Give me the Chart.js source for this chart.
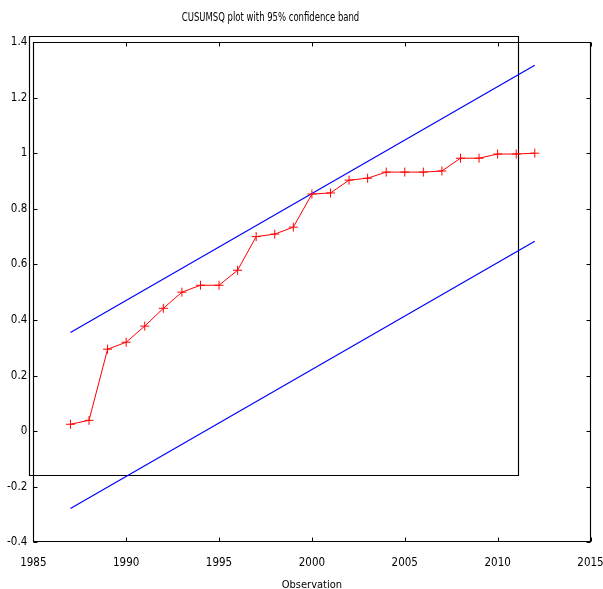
<!DOCTYPE html>
<html>
<head>
<meta charset="utf-8">
<script src="https://cdn.jsdelivr.net/npm/chart.js@4.4.1/dist/chart.umd.min.js"></script>
<style>
html,body{margin:0;padding:0;background:#fff;}
#wrap{width:603px;height:589px;position:relative;}
</style>
</head>
<body>
<div id="wrap"><canvas id="c" width="603" height="589"></canvas></div>
<script>
const titleText = "CUSUMSQ plot with 95% confidence band";
const xTitle = "Observation";
const years = [1987,1988,1989,1990,1991,1992,1993,1994,1995,1996,1997,1998,1999,2000,2001,2002,2003,2004,2005,2006,2007,2008,2009,2010,2011,2012];
const cusumsq = [0.025,0.039,0.295,0.32,0.378,0.442,0.50,0.525,0.525,0.579,0.70,0.709,0.734,0.853,0.857,0.903,0.91,0.932,0.932,0.932,0.936,0.982,0.982,0.997,0.997,1.0];
const bandYears = [1987, 2012];
const upperBand = [0.355, 1.3165];
const lowerBand = [-0.278, 0.6835];
const xTicks = [1985,1990,1995,2000,2005,2010,2015];
const yTicks = [-0.4,-0.2,0,0.2,0.4,0.6,0.8,1,1.2,1.4];

const FONT = "'DejaVu Sans Condensed','DejaVu Sans',sans-serif";

const pts = (xs, ys) => xs.map((x,i)=>({x:x, y:ys[i]}));

const framePlugin = {
  id:'frame',
  beforeDatasetsDraw(chart){
    const ctx = chart.ctx;
    ctx.save();
    // stray frame rectangle present in the reference image
    ctx.strokeStyle = '#000';
    ctx.lineWidth = 1.15;
    ctx.beginPath();
    ctx.moveTo(29.5, 36.5); ctx.lineTo(518.5, 36.5); ctx.lineTo(518.5, 475.5);
    ctx.lineTo(29.5, 475.5); ctx.closePath();
    ctx.stroke();
    ctx.restore();
  },
  afterDraw(chart){
    const ctx = chart.ctx, a = chart.chartArea;
    const xs = chart.scales.x, ys = chart.scales.y;
    ctx.save();
    ctx.strokeStyle = '#000000';
    ctx.lineWidth = 1.15;
    ctx.setLineDash([]);
    const L = Math.round(a.left)+0.5, R = Math.round(a.right)-0.5, T = Math.round(a.top)+0.5, B = Math.round(a.bottom)-0.5;
    ctx.beginPath();
    ctx.moveTo(L,T); ctx.lineTo(R,T); ctx.lineTo(R,B); ctx.lineTo(L,B); ctx.closePath();
    ctx.stroke();
    ctx.lineWidth = 1;
    ctx.beginPath();
    xTicks.forEach(v=>{
      const px = Math.round(xs.getPixelForValue(v))+0.5;
      ctx.moveTo(px,B); ctx.lineTo(px,B-4);
      ctx.moveTo(px,T); ctx.lineTo(px,T+4);
    });
    yTicks.forEach(v=>{
      const py = Math.round(ys.getPixelForValue(v))+0.5;
      ctx.moveTo(L,py); ctx.lineTo(L+4,py);
      ctx.moveTo(R,py); ctx.lineTo(R-4,py);
    });
    ctx.stroke();
    // title
    ctx.fillStyle = '#000';
    ctx.font = '11.5px ' + FONT;
    ctx.textAlign = 'center';
    ctx.textBaseline = 'middle';
    ctx.translate(270.5, 18);
    ctx.scale(0.82, 1);
    ctx.fillText(titleText, 0, 0);
    ctx.restore();
  }
};

new Chart(document.getElementById('c'), {
  type:'line',
  data:{
    datasets:[
      {label:'CUSUMSQ', data:pts(years,cusumsq), borderColor:'#ff0000', backgroundColor:'#ff0000', borderWidth:1,
       pointStyle:'cross', pointRadius:4.5, pointBorderWidth:1, pointBorderColor:'#ff0000', tension:0},
      {label:'upper', data:pts(bandYears,upperBand), borderColor:'#0000ff', borderWidth:1.2, pointRadius:0, tension:0},
      {label:'lower', data:pts(bandYears,lowerBand), borderColor:'#0000ff', borderWidth:1.2, pointRadius:0, tension:0}
    ]
  },
  options:{
    responsive:false,
    animation:false,
    events:[],
    layout:{padding:{top:42, right:12.5, left:0, bottom:0}},
    plugins:{legend:{display:false}, title:{display:false}, tooltip:{enabled:false}},
    scales:{
      x:{type:'linear', min:1985, max:2015,
        afterBuildTicks(s){ s.ticks = xTicks.map(v=>({value:v})); },
        afterFit(s){ s.height = 46.6; s.paddingLeft = 0; s.paddingRight = 0; },
        grid:{display:false, drawTicks:false}, border:{display:false},
        ticks:{color:'#000', font:{family:FONT, size:11.5}, padding:14, maxRotation:0, autoSkip:false,
          callback:(v)=>String(v)},
        title:{display:true, text:xTitle, color:'#000', font:{family:FONT, size:11}, padding:{top:10,bottom:-2.5}}
      },
      y:{type:'linear', min:-0.4, max:1.4,
        afterBuildTicks(s){ s.ticks = yTicks.map(v=>({value:v})); },
        afterFit(s){ s.width = 33.3; s.paddingTop = 0; s.paddingBottom = 0; },
        grid:{display:false, drawTicks:false}, border:{display:false},
        ticks:{color:'#000', font:{family:FONT, size:11.5}, padding:6, autoSkip:false,
          callback:(v)=>String(Math.round(v*10)/10)}
      }
    }
  },
  plugins:[framePlugin]
});
</script>
</body>
</html>
